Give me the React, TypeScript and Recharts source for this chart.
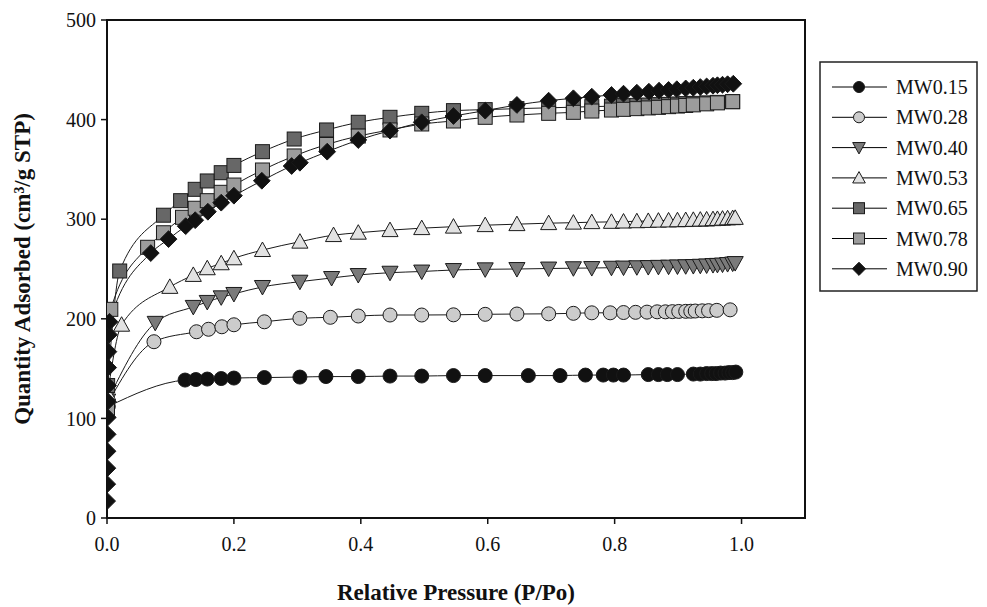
import React from "react";
import { ComposedChart, Line, XAxis, YAxis, Legend, ReferenceArea } from "recharts";

const FONT = '"Liberation Serif", "Times New Roman", serif';

// axis ticks
const xTicks = [0, 0.2, 0.4, 0.6, 0.8, 1.0];
const yTicks = [0, 100, 200, 300, 400, 500];

// MW0.15
const mw015P = [0.002, 0.123, 0.14, 0.158, 0.18, 0.2, 0.248, 0.304, 0.345, 0.396, 0.446, 0.496, 0.546, 0.596, 0.664, 0.714, 0.754, 0.782, 0.798, 0.814, 0.853, 0.869, 0.883, 0.899, 0.924, 0.935, 0.945, 0.953, 0.96, 0.967, 0.974, 0.98, 0.986, 0.991];
const mw015Q = [112, 138.5, 139, 139.5, 140, 140.5, 141, 141.5, 142, 142, 142.5, 142.5, 143, 143, 143, 143, 143.5, 143.5, 143.5, 143.5, 144, 144, 144, 144, 144.5, 144.5, 145, 145, 145, 145.5, 145.5, 146, 146, 146.5];

// MW0.28
const mw028P = [0.001, 0.074, 0.141, 0.16, 0.181, 0.2, 0.248, 0.304, 0.352, 0.396, 0.446, 0.496, 0.546, 0.596, 0.646, 0.696, 0.735, 0.764, 0.793, 0.814, 0.833, 0.851, 0.867, 0.88, 0.891, 0.901, 0.912, 0.92, 0.927, 0.938, 0.948, 0.961, 0.982];
const mw028Q = [115, 177, 187, 189.5, 192, 194, 197, 200.5, 201.5, 202.8, 203.8, 203.8, 204, 204.5, 204.8, 205, 205.5, 206, 206, 206.3, 206.5, 206.7, 207, 207, 207.2, 207.4, 207.5, 207.6, 207.8, 208, 208.2, 208.5, 209];

// MW0.40
const mw040P = [0.001, 0.076, 0.136, 0.158, 0.18, 0.2, 0.245, 0.304, 0.354, 0.396, 0.446, 0.496, 0.546, 0.596, 0.646, 0.696, 0.735, 0.764, 0.795, 0.814, 0.835, 0.853, 0.869, 0.885, 0.899, 0.912, 0.924, 0.935, 0.945, 0.955, 0.962, 0.97, 0.978, 0.986, 0.99];
const mw040Q = [118, 196, 212, 217, 221.6, 225, 232, 237.3, 241, 244, 246.3, 247.5, 249, 249.7, 250, 250.5, 250.8, 251, 251.3, 251.5, 251.8, 252, 252.2, 252.4, 252.6, 252.8, 253, 253.3, 253.6, 254, 254.2, 254.5, 255, 255.5, 256];

// MW0.53
const mw053P = [0.001, 0.023, 0.099, 0.136, 0.158, 0.18, 0.2, 0.245, 0.304, 0.357, 0.396, 0.446, 0.496, 0.546, 0.596, 0.646, 0.696, 0.735, 0.764, 0.795, 0.814, 0.835, 0.853, 0.869, 0.885, 0.899, 0.912, 0.924, 0.935, 0.945, 0.955, 0.962, 0.97, 0.978, 0.986, 0.99];
const mw053Q = [125, 194, 232, 244, 250.7, 255.7, 260.7, 269, 277.4, 284, 286.4, 289, 291, 292.5, 294, 295, 296, 296.5, 297, 297.3, 297.6, 297.9, 298.2, 298.5, 298.7, 298.9, 299.1, 299.3, 299.5, 299.7, 300, 300.2, 300.5, 300.8, 301, 301.3];

// MW0.65
const mw065P = [0.001, 0.02, 0.089, 0.116, 0.139, 0.158, 0.18, 0.2, 0.245, 0.295, 0.346, 0.396, 0.446, 0.496, 0.546, 0.596, 0.646, 0.696, 0.735, 0.764, 0.795, 0.814, 0.835, 0.853, 0.869, 0.885, 0.899, 0.912, 0.924, 0.945, 0.962, 0.986];
const mw065Q = [133, 248, 304, 318.6, 330, 338.4, 346.7, 354, 367.8, 380.5, 389.6, 397.3, 402.3, 406.3, 409, 410, 411, 411.8, 412.5, 413, 413.5, 414, 414.3, 414.6, 415, 415.3, 415.6, 416, 416.3, 416.8, 417.3, 418];

// MW0.78
const mw078P = [0.0008, 0.006, 0.064, 0.089, 0.119, 0.139, 0.158, 0.18, 0.2, 0.245, 0.295, 0.346, 0.396, 0.446, 0.496, 0.546, 0.596, 0.646, 0.696, 0.735, 0.764, 0.795, 0.814, 0.835, 0.853, 0.869, 0.885, 0.899, 0.912, 0.924, 0.945, 0.962, 0.986];
const mw078Q = [110, 209.5, 271.8, 286.4, 301.9, 311, 318.6, 327, 334.3, 349.4, 363.5, 375, 383.5, 389.6, 395.6, 398.6, 402.3, 404.6, 406.3, 407.3, 408.6, 409.6, 410.3, 411, 411.7, 412.3, 413, 413.6, 414.2, 414.8, 415.8, 416.8, 418];

// MW0.90
const mw090P = [0.0002, 0.0004, 0.0006, 0.0008, 0.001, 0.0012, 0.0014, 0.0016, 0.0018, 0.0022, 0.003, 0.004, 0.069, 0.097, 0.124, 0.139, 0.159, 0.18, 0.2, 0.244, 0.291, 0.304, 0.347, 0.396, 0.446, 0.496, 0.546, 0.596, 0.646, 0.696, 0.735, 0.764, 0.795, 0.814, 0.835, 0.854, 0.87, 0.885, 0.898, 0.912, 0.924, 0.935, 0.945, 0.955, 0.962, 0.97, 0.978, 0.987];
const mw090Q = [17, 34, 50, 67, 84, 101, 117, 133, 151, 167, 184, 197, 266, 280, 293, 299, 307.5, 316.6, 323.6, 338.6, 353.4, 356.7, 367.8, 379.5, 388.9, 397.3, 403.6, 409, 414.7, 419, 421.4, 423, 424.7, 426, 427, 428, 429, 429.8, 430.5, 431.3, 432, 432.7, 433.3, 434, 434.5, 435, 435.5, 436];

type Shape = "circle" | "triangleDown" | "triangle" | "square" | "diamond";

const toPoints = (p: number[], q: number[]) => p.map((x, i) => ({ p: x, q: q[i] }));

const series: { name: string; shape: Shape; fill: string; points: { p: number; q: number }[] }[] = [
  { name: "MW0.15", shape: "circle", fill: "#111111", points: toPoints(mw015P, mw015Q) },
  { name: "MW0.28", shape: "circle", fill: "#cccccc", points: toPoints(mw028P, mw028Q) },
  { name: "MW0.40", shape: "triangleDown", fill: "#7a7a7a", points: toPoints(mw040P, mw040Q) },
  { name: "MW0.53", shape: "triangle", fill: "#e2e2e2", points: toPoints(mw053P, mw053Q) },
  { name: "MW0.65", shape: "square", fill: "#676767", points: toPoints(mw065P, mw065Q) },
  { name: "MW0.78", shape: "square", fill: "#9c9c9c", points: toPoints(mw078P, mw078Q) },
  { name: "MW0.90", shape: "diamond", fill: "#111111", points: toPoints(mw090P, mw090Q) },
];

function Marker({ cx, cy, shape, fill, s = 7 }: { cx: number; cy: number; shape: Shape; fill: string; s?: number }) {
  const stroke = { fill, stroke: "#1a1a1a", strokeWidth: 1 };
  if (shape === "circle") return <circle cx={cx} cy={cy} r={s} {...stroke} />;
  if (shape === "square") return <rect x={cx - s} y={cy - s} width={s * 2} height={s * 2} {...stroke} />;
  if (shape === "diamond") {
    const d = s * 1.2;
    return <polygon points={`${cx},${cy - d} ${cx + d},${cy} ${cx},${cy + d} ${cx - d},${cy}`} {...stroke} />;
  }
  if (shape === "triangle") {
    const d = s * 1.15;
    return <polygon points={`${cx},${cy - d} ${cx + d},${cy + d * 0.8} ${cx - d},${cy + d * 0.8}`} {...stroke} />;
  }
  const d = s * 1.15;
  return <polygon points={`${cx},${cy + d} ${cx + d},${cy - d * 0.8} ${cx - d},${cy - d * 0.8}`} {...stroke} />;
}

function LegendBox() {
  const rowH = 30.3;
  return (
    <svg width={160} height={232}>
      <rect x={1} y={1} width={157} height={229} fill="#fff" stroke="#222" strokeWidth={1.5} />
      {series.map((s, i) => {
        const y = 26 + i * rowH;
        return (
          <g key={s.name}>
            <line x1={13} x2={68} y1={y} y2={y} stroke="#000" strokeWidth={1} />
            <Marker cx={40} cy={y} shape={s.shape} fill={s.fill} s={5.5} />
            <text x={77} y={y} dominantBaseline="central" fontFamily={FONT} fontSize={20} fill="#111">
              {s.name}
            </text>
          </g>
        );
      })}
    </svg>
  );
}

function YTitle(props: any) {
  const vb = props.viewBox || {};
  const cx = 22;
  const cy = vb.y + vb.height / 2;
  return (
    <text x={cx} y={cy} transform={`rotate(-90, ${cx}, ${cy})`} textAnchor="middle" dominantBaseline="central"
      fontFamily={FONT} fontWeight={700} fontSize={23} fill="#111">
      Quantity Adsorbed (cm³/g STP)
    </text>
  );
}

function XTitle(props: any) {
  const vb = props.viewBox || {};
  const cx = vb.x + vb.width / 2;
  return (
    <text x={cx} y={592} textAnchor="middle" dominantBaseline="central"
      fontFamily={FONT} fontWeight={700} fontSize={23} fill="#111">
      Relative Pressure (P/Po)
    </text>
  );
}

const tickStyle = { fontFamily: FONT, fontSize: 20, fill: "#111" };

export default function App() {
  return (
    <div style={{ position: "absolute", left: 0, top: 0, background: "#fff" }}>
      <ComposedChart width={987} height={607} margin={{ top: 20, right: 182, bottom: 4, left: 1 }}>
        <XAxis
          dataKey="p"
          type="number"
          domain={[0, 1.1]}
          ticks={xTicks}
          allowDataOverflow
          tickFormatter={(v: number) => v.toFixed(1)}
          tick={tickStyle}
          tickSize={6}
          tickMargin={13}
          height={85}
          axisLine={{ stroke: "#111", strokeWidth: 2 }}
          tickLine={{ stroke: "#111", strokeWidth: 1.5 }}
          label={<XTitle />}
        />
        <YAxis
          dataKey="q"
          type="number"
          domain={[0, 500]}
          ticks={yTicks}
          allowDataOverflow
          tick={tickStyle}
          tickSize={6}
          tickMargin={5}
          width={106}
          axisLine={{ stroke: "#111", strokeWidth: 2 }}
          tickLine={{ stroke: "#111", strokeWidth: 1.5 }}
          label={<YTitle />}
        />
        <ReferenceArea x1={0} x2={1.1} y1={0} y2={500} fill="none" stroke="#111" strokeWidth={2} />
        {series.map((s) => (
          <Line
            key={s.name}
            name={s.name}
            data={s.points}
            dataKey="q"
            type="monotone"
            stroke="#1a1a1a"
            strokeWidth={1}
            activeDot={false}
            isAnimationActive={false}
            dot={(d: any) => <Marker key={`${s.name}-${d.index}`} cx={d.cx} cy={d.cy} shape={s.shape} fill={s.fill} />}
          />
        ))}
        <Legend
          layout="horizontal"
          verticalAlign="middle"
          align="center"
          wrapperStyle={{ left: 819, top: 61, width: 160, height: 232 }}
          content={() => <LegendBox />}
        />
      </ComposedChart>
    </div>
  );
}
